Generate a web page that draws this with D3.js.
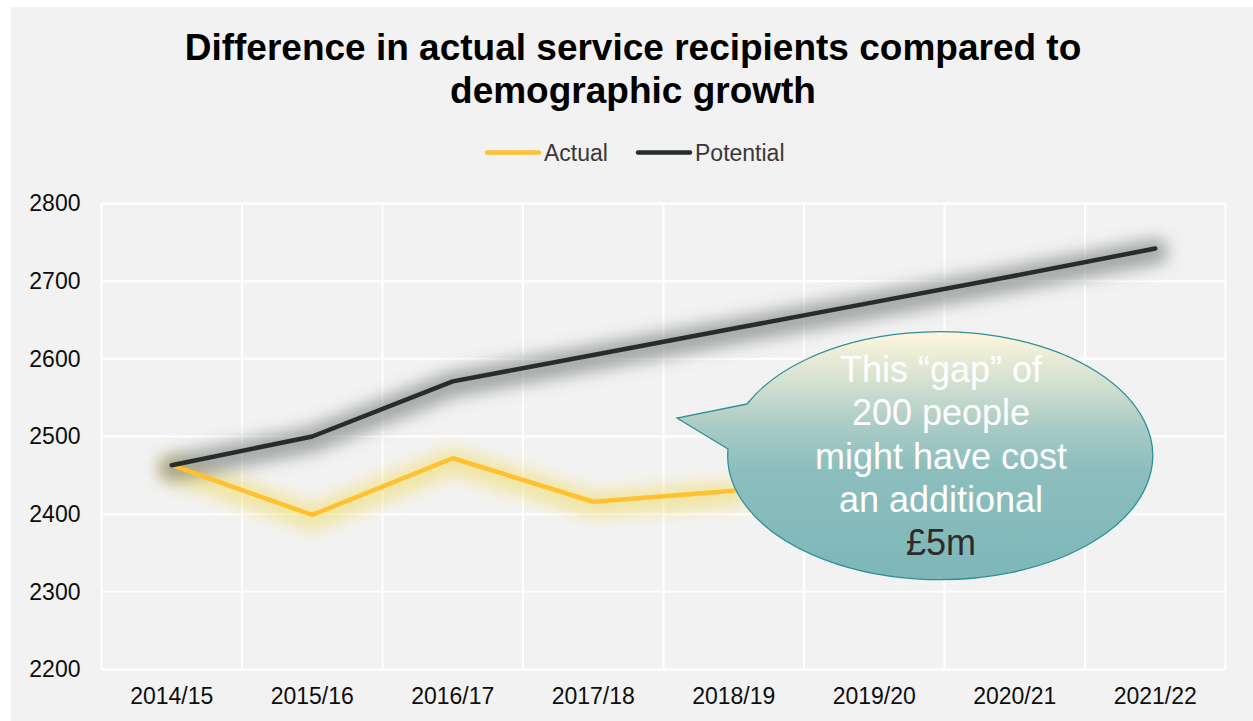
<!DOCTYPE html>
<html>
<head>
<meta charset="utf-8">
<script src="https://cdn.jsdelivr.net/npm/d3@7"></script>
<style>
  html, body { margin: 0; padding: 0; background: #ffffff; }
  svg { display: block; font-family: "Liberation Sans", Arial, sans-serif; }
</style>
</head>
<body>
<svg id="chart" width="1253" height="721"></svg>
<script>
// Service recipients per year
const years = ["2014/15", "2015/16", "2016/17", "2017/18", "2018/19", "2019/20", "2020/21", "2021/22"];
const actual = [2463, 2399, 2472, 2416, 2430];
const potential = [2463, 2500, 2571, 2605, 2639, 2673, 2707, 2742];
const yTicks = [2200, 2300, 2400, 2500, 2600, 2700, 2800];

const titleLines = ["Difference in actual service recipients compared to", "demographic growth"];
const calloutLines = ["This \u201cgap\u201d of", "200 people", "might have cost", "an additional", "\u00a35m"];

const W = 1253, H = 721;
const plot = { left: 101.5, right: 1225.5, top: 203.5, bottom: 669.5 };

const svg = d3.select("#chart");
const defs = svg.append("defs");

// Soft glow filter for the two lines
defs.append("filter").attr("id", "glowSoft").attr("x", "-10%").attr("y", "-60%").attr("width", "120%").attr("height", "220%")
  .append("feGaussianBlur").attr("stdDeviation", 8);

// Callout gradient
const grad = defs.append("linearGradient").attr("id", "calloutFill")
  .attr("gradientUnits", "userSpaceOnUse").attr("x1", 0).attr("x2", 0).attr("y1", 332).attr("y2", 580);
[["0%", "#fef6dc"], ["18%", "#d9e3d1"], ["38%", "#aacbc6"], ["55%", "#8dbebe"], ["100%", "#7db7b8"]]
  .forEach(([o, c]) => grad.append("stop").attr("offset", o).attr("stop-color", c));

// Panel background
svg.append("rect").attr("x", 11).attr("y", 7).attr("width", W - 11).attr("height", H - 7).attr("fill", "#f2f2f2");

// Scales
const x = d3.scaleBand().domain(years).range([plot.left, plot.right]).padding(0);
const y = d3.scaleLinear().domain([2200, 2800]).range([plot.bottom, plot.top]);
const cx = d => x(d) + x.bandwidth() / 2;

// Gridlines
const grid = svg.append("g").attr("stroke", "#ffffff").attr("stroke-width", 2);
yTicks.forEach(t => grid.append("line").attr("x1", plot.left).attr("x2", plot.right).attr("y1", y(t)).attr("y2", y(t)));
x.domain().concat([null]).forEach(d => {
  const px = d === null ? plot.right : x(d);
  grid.append("line").attr("x1", px).attr("x2", px).attr("y1", plot.top).attr("y2", plot.bottom);
});

// Axes
const yAxis = svg.append("g").attr("transform", `translate(${plot.left - 21},0)`)
  .call(d3.axisLeft(y).tickValues(yTicks).tickSize(0).tickPadding(0).tickFormat(d3.format("d")));
yAxis.select(".domain").remove();
yAxis.selectAll("text").attr("font-size", 23).attr("fill", "#0d0d0d").attr("font-family", "Liberation Sans, Arial, sans-serif");

const xAxis = svg.append("g").attr("transform", `translate(0,${plot.bottom + 18})`)
  .call(d3.axisBottom(x).tickSize(0).tickPadding(0));
xAxis.select(".domain").remove();
xAxis.selectAll("text").attr("font-size", 23).attr("fill", "#0d0d0d").attr("dy", "0.71em").attr("font-family", "Liberation Sans, Arial, sans-serif");

// Lines with soft halos underneath
const line = d3.line().x((d, i) => cx(years[i])).y(d => y(d));
const colors = { actual: "#ffc12f", potential: "#262d2b" };

svg.append("path").attr("d", line(actual)).attr("fill", "none").attr("transform", "translate(0,3)")
  .attr("stroke", "#f0da60").attr("stroke-opacity", 0.55).attr("stroke-width", 26)
  .attr("stroke-linejoin", "round").attr("stroke-linecap", "round").attr("filter", "url(#glowSoft)");
svg.append("path").attr("d", line(potential)).attr("fill", "none").attr("transform", "translate(0,3)")
  .attr("stroke", "#6f7674").attr("stroke-opacity", 0.6).attr("stroke-width", 26)
  .attr("stroke-linejoin", "round").attr("stroke-linecap", "round").attr("filter", "url(#glowSoft)");

svg.append("path").attr("d", line(actual)).attr("fill", "none")
  .attr("stroke", colors.actual).attr("stroke-width", 4.5).attr("stroke-linejoin", "round").attr("stroke-linecap", "round");
svg.append("path").attr("d", line(potential)).attr("fill", "none")
  .attr("stroke", colors.potential).attr("stroke-width", 4.5).attr("stroke-linejoin", "round").attr("stroke-linecap", "round");

// Title
const title = svg.append("text").attr("text-anchor", "middle").attr("font-weight", "bold")
  .attr("font-size", 37).attr("fill", "#000000");
titleLines.forEach((t, i) => title.append("tspan").attr("x", 633).attr("y", 60 + i * 43).text(t));

// Legend
const legend = [
  { name: "Actual", color: colors.actual, x: 487 },
  { name: "Potential", color: colors.potential, x: 638 }
];
legend.forEach(l => {
  svg.append("line").attr("x1", l.x).attr("x2", l.x + 52).attr("y1", 152.5).attr("y2", 152.5)
    .attr("stroke", l.color).attr("stroke-width", 4.5).attr("stroke-linecap", "round");
  svg.append("text").attr("x", l.x + 57).attr("y", 161).attr("font-size", 23).attr("fill", "#3b3634").text(l.name);
});

// Speech-bubble annotation
const ell = { rx: 212.5, ry: 124 };
const bubblePath = `M747,404 L677,418 L728,449 A${ell.rx},${ell.ry} 0 1 0 747,404 Z`;
svg.append("path").attr("d", bubblePath).attr("fill", "url(#calloutFill)")
  .attr("stroke", "#2e9098").attr("stroke-width", 1.3).attr("stroke-linejoin", "miter");

const callout = svg.append("text").attr("text-anchor", "middle").attr("font-size", 36);
calloutLines.forEach((t, i) => callout.append("tspan").attr("x", 941).attr("y", 382 + i * 43.3)
  .attr("fill", i === calloutLines.length - 1 ? "#2f2b2a" : "#ffffff").text(t));
</script>
</body>
</html>
